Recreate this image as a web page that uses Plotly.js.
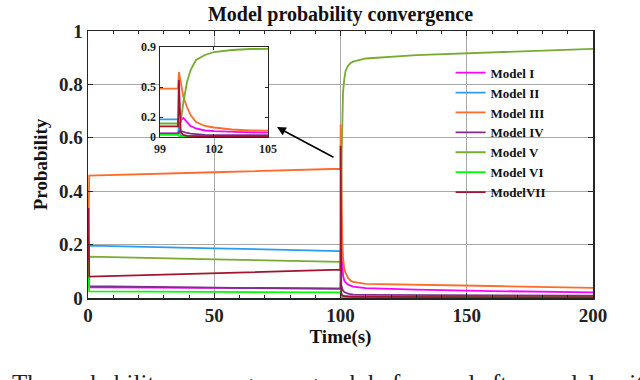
<!DOCTYPE html>
<html>
<head>
<meta charset="utf-8">
<script src="https://cdn.plot.ly/plotly-3.0.1.min.js"></script>
<style>html,body{margin:0;padding:0;background:#fff;}#chart{width:640px;height:380px;}</style>
</head>
<body>
<div id="chart"></div>
<script>
// time stamps (s)
var timeS = [0, 0.2, 0.5, 50, 100, 100.05, 100.15, 100.3, 100.5, 100.7, 101, 101.5, 102, 103, 104, 105, 110, 130, 160, 200];
var modelNames = ["Model I", "Model II", "Model III", "Model IV", "Model V", "Model VI", "ModelVII"];
var modelColors = ["#ff00ff", "#2b9cf2", "#ff6b2b", "#7e2f8e", "#77ac30", "#00ff00", "#a2142f"];
var modelI   = [0.143, 0.050, 0.040, 0.038, 0.036, 0.080, 0.170, 0.190, 0.150, 0.110, 0.085, 0.065, 0.058, 0.050, 0.046, 0.043, 0.037, 0.031, 0.026, 0.021];
var modelII  = [0.143, 0.190, 0.196, 0.186, 0.176, 0.050, 0.020, 0.012, 0.010, 0.010, 0.009, 0.008, 0.008, 0.007, 0.007, 0.006, 0.005, 0.004, 0.004, 0.003];
var modelIII = [0.143, 0.380, 0.458, 0.471, 0.484, 0.650, 0.550, 0.400, 0.300, 0.220, 0.150, 0.110, 0.095, 0.075, 0.065, 0.060, 0.053, 0.049, 0.045, 0.038];
var modelIV  = [0.143, 0.050, 0.044, 0.039, 0.034, 0.050, 0.060, 0.050, 0.040, 0.033, 0.028, 0.022, 0.019, 0.016, 0.014, 0.013, 0.012, 0.011, 0.010, 0.009];
var modelV   = [0.143, 0.150, 0.155, 0.145, 0.135, 0.100, 0.150, 0.350, 0.550, 0.670, 0.770, 0.820, 0.850, 0.870, 0.880, 0.885, 0.897, 0.910, 0.920, 0.933];
var modelVI  = [0.143, 0.079, 0.025, 0.023, 0.021, 0.010, 0.005, 0.004, 0.003, 0.003, 0.003, 0.002, 0.002, 0.002, 0.002, 0.002, 0.002, 0.002, 0.002, 0.002];
var modelVII = [0.143, 0.337, 0.080, 0.093, 0.106, 0.570, 0.050, 0.020, 0.012, 0.010, 0.008, 0.007, 0.006, 0.005, 0.005, 0.004, 0.004, 0.003, 0.003, 0.003];
var allSeries = [modelI, modelII, modelIII, modelIV, modelV, modelVI, modelVII];
var insetYTicks = [0, 0.2, 0.5, 0.9];
var insetXTicks = [99, 102, 105];

var FONT = "Liberation Serif, Times New Roman, serif";
var traces = [];
allSeries.forEach(function (s, i) {
  traces.push({x: timeS, y: s, type: "scatter", mode: "lines", name: modelNames[i],
    line: {color: modelColors[i], width: 1.8}, xaxis: "x", yaxis: "y"});
});
allSeries.forEach(function (s, i) {
  traces.push({x: timeS, y: s, type: "scatter", mode: "lines", name: modelNames[i], showlegend: false,
    line: {color: modelColors[i], width: 1.8}, xaxis: "x2", yaxis: "y2"});
});

var axLine = "#262626";
var layout = {
  width: 640, height: 380,
  margin: {l: 88, r: 47, t: 31, b: 82},
  paper_bgcolor: "#fff", plot_bgcolor: "#fff",
  font: {family: FONT, color: "#222"},
  title: {text: "Model probability convergence", font: {family: FONT, size: 20, weight: "bold", color: "#111"},
    xref: "paper", x: 0.5, xanchor: "center", yref: "container", y: 0.963, yanchor: "middle"},
  showlegend: true,
  legend: {x: 0.718, y: 0.9, xanchor: "left", yanchor: "top", bgcolor: "rgba(0,0,0,0)", borderwidth: 0,
    font: {family: FONT, size: 13, weight: "bold", color: "#111"}, tracegroupgap: 0, itemwidth: 30},
  xaxis: {range: [0, 200], tickvals: [0, 50, 100, 150, 200], showgrid: true, gridcolor: "#a8a8a8", gridwidth: 1.2,
    zeroline: false, showline: true, linecolor: axLine, linewidth: 1.5, mirror: "ticks",
    ticks: "inside", ticklen: 5, tickcolor: axLine,
    minor: {dtick: 10, ticks: "inside", ticklen: 3, tickcolor: axLine, showgrid: false},
    tickfont: {family: FONT, size: 19, weight: "bold", color: "#222"},
    title: {text: "Time(s)", font: {family: FONT, size: 19, weight: "bold", color: "#111"}, standoff: 2},
    domain: [0, 1], anchor: "y"},
  yaxis: {range: [0, 1], tickvals: [0, 0.2, 0.4, 0.6, 0.8, 1], ticktext: ["0", "0.2", "0.4", "0.6", "0.8", "1"],
    showgrid: true, gridcolor: "#a8a8a8", gridwidth: 1.2,
    zeroline: false, showline: true, linecolor: axLine, linewidth: 1.5, mirror: "ticks",
    ticks: "inside", ticklen: 5, tickcolor: axLine,
    tickfont: {family: FONT, size: 19, weight: "bold", color: "#222"},
    title: {text: "Probability", font: {family: FONT, size: 19, weight: "bold", color: "#111"}, standoff: 6},
    domain: [0, 1], anchor: "x"},
  xaxis2: {domain: [0.1426, 0.3564], anchor: "y2", range: [99, 105], tickvals: insetXTicks,
    showgrid: false, zeroline: false, showline: true, linecolor: axLine, linewidth: 1.5, mirror: "ticks",
    ticks: "inside", ticklen: 3, tickcolor: axLine,
    tickfont: {family: FONT, size: 12, weight: "bold", color: "#222"}},
  yaxis2: {domain: [0.603, 0.940], anchor: "x2", range: [0, 0.9], tickvals: insetYTicks,
    ticktext: ["0", "0.2", "0.5", "0.9"],
    showgrid: false, zeroline: false, showline: true, linecolor: axLine, linewidth: 1.5, mirror: "ticks",
    ticks: "inside", ticklen: 3, tickcolor: axLine,
    tickfont: {family: FONT, size: 12, weight: "bold", color: "#222"}},
  shapes: [
    {type: "rect", xref: "x2 domain", yref: "y2 domain", x0: 0, x1: 1, y0: 0, y1: 1,
      fillcolor: "#fff", line: {width: 0}, layer: "below"}
  ],
  annotations: [
    {x: 74.85, y: 0.640, xref: "x", yref: "y", ax: 58, ay: 31, axref: "pixel", ayref: "pixel",
      showarrow: true, arrowhead: 2, arrowsize: 1.1, arrowwidth: 1.6, arrowcolor: "#000", text: ""},
    {x: -0.1545, y: -0.262, xref: "paper", yref: "paper", xanchor: "left", yanchor: "top", showarrow: false,
      text: "The probability convergence graph before and after model switching",
      font: {family: FONT, size: 25, color: "#222"}}
  ]
};
Plotly.newPlot("chart", traces, layout, {displayModeBar: false, staticPlot: true});
</script>
</body>
</html>
